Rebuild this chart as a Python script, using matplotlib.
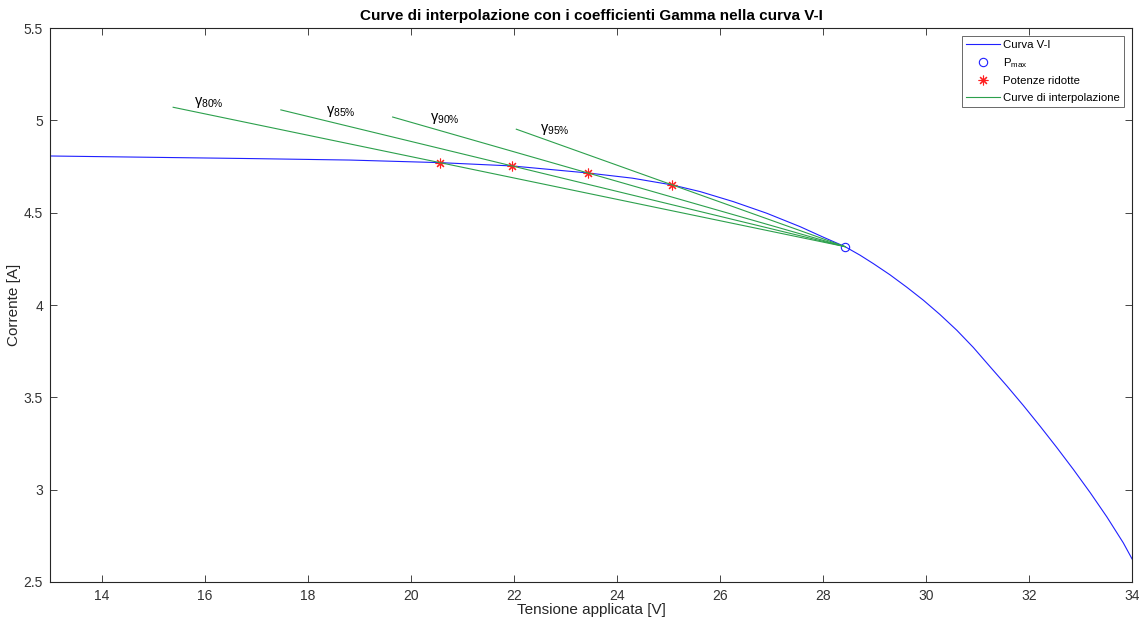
import matplotlib
matplotlib.use("Agg")
import matplotlib.pyplot as plt

plt.rcParams['font.family'] = ['Liberation Sans', 'DejaVu Sans']
plt.rcParams['mathtext.fontset'] = 'custom'
plt.rcParams['mathtext.rm'] = 'Liberation Sans'
plt.rcParams['mathtext.it'] = 'Liberation Sans:italic'

# V-I curve
tensione = [13.0, 14.94, 16.9, 18.82, 20.57, 21.97, 23.44, 24.3, 25.08, 25.62,
            26.26, 26.91, 27.56, 28.01, 28.43, 28.72, 28.98, 29.30, 29.63, 29.95,
            30.27, 30.60, 30.92, 31.25, 31.57, 31.89, 32.22, 32.54, 32.86, 33.19,
            33.51, 33.83, 34.0]
corrente = [4.807, 4.800, 4.793, 4.785, 4.771, 4.753, 4.715, 4.687, 4.650, 4.614,
            4.560, 4.497, 4.424, 4.367, 4.316, 4.270, 4.224, 4.164, 4.096, 4.026,
            3.949, 3.863, 3.770, 3.664, 3.562, 3.456, 3.342, 3.228, 3.110, 2.983,
            2.853, 2.712, 2.625]

# maximum power point
v_pmax = 28.43
i_pmax = 4.316

# reduced power points (80, 85, 90, 95 %)
percentuali = ['80', '85', '90', '95']
v_ridotte = [20.57, 21.97, 23.44, 25.08]
i_ridotte = [4.771, 4.753, 4.715, 4.650]

# left end of each interpolation line
v_inizio = [15.39, 17.48, 19.65, 22.05]

# gamma label positions
v_label = [15.8, 18.35, 20.38, 22.5]
i_label = [5.095, 5.05, 5.01, 4.95]

fig = plt.figure(figsize=(11.39, 6.2), dpi=100)
ax = fig.add_axes([0.0439, 0.0613, 0.9500, 0.8935])

ax.plot(tensione, corrente, color='#2020ff', lw=0.8, label='Curva V-I')
ax.plot([v_pmax], [i_pmax], linestyle='none', marker='o', ms=6, mfc='none',
        mec='#2020ff', mew=0.8, label=r'P$_{\rm max}$')
ax.plot(v_ridotte, i_ridotte, linestyle='none', marker=(8, 2, 0), ms=7,
        color='#ff2020', mew=0.8, label='Potenze ridotte')

for k in range(len(v_ridotte)):
    slope = (i_ridotte[k] - i_pmax) / (v_ridotte[k] - v_pmax)
    i0 = i_pmax + slope * (v_inizio[k] - v_pmax)
    ax.plot([v_inizio[k], v_pmax], [i0, i_pmax], color='#2ca04c', lw=0.8,
            label='Curve di interpolazione' if k == 0 else None)
    ax.text(v_label[k], i_label[k], r'γ$_{\rm %s\%%}$' % percentuali[k],
            fontsize=10.5, ha='left', va='center', color='#000000')

ax.set_xlim(13, 34)
ax.set_ylim(2.5, 5.5)
ax.set_xticks([14, 16, 18, 20, 22, 24, 26, 28, 30, 32, 34])
ax.set_yticks([2.5, 3, 3.5, 4, 4.5, 5, 5.5])
ax.set_yticklabels(['2.5', '3', '3.5', '4', '4.5', '5', '5.5'])

for s in ax.spines.values():
    s.set_color('#262626')
    s.set_linewidth(0.8)
ax.tick_params(direction='in', top=True, right=True, length=5, width=0.6,
               colors='#262626', labelsize=10, labelcolor='#333333', pad=5)

ax.set_xlabel('Tensione applicata [V]', fontsize=11, color='#262626', labelpad=0)
ax.set_ylabel('Corrente [A]', fontsize=11, color='#262626', labelpad=2)
ax.set_title('Curve di interpolazione con i coefficienti Gamma nella curva V-I',
             fontsize=11, fontweight='bold', pad=6)

leg = ax.legend(loc='upper right', fontsize=8.2, frameon=True, fancybox=False,
                borderaxespad=0.7, handlelength=3.0, handletextpad=0.3,
                labelspacing=0.55, borderpad=0.35)
leg.get_frame().set_edgecolor('#262626')
leg.get_frame().set_linewidth(0.6)

fig.savefig('out.png', dpi=100)
